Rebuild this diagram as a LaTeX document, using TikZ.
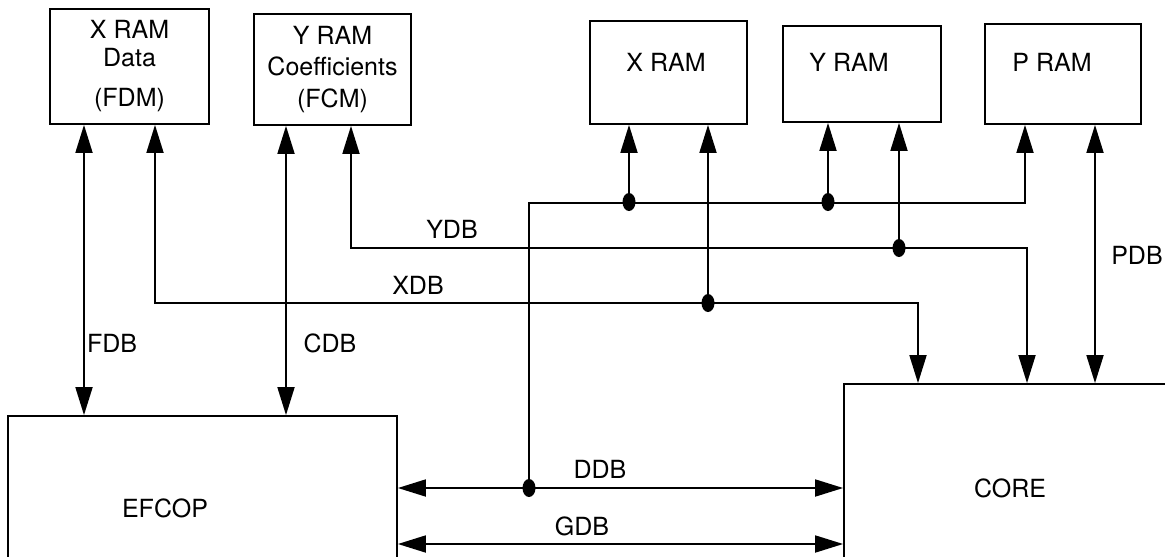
\documentclass[tikz,border=0pt]{standalone}
\usepackage{fontspec}
\setmainfont{TeX Gyre Heros}
\usetikzlibrary{arrows.meta,shapes.geometric,calc}
\begin{document}
\begin{tikzpicture}[x=1pt,y=-1pt,
  line width=1.8pt,
  >={Triangle[length=28pt,width=17pt]},
  box/.style={draw, rectangle, inner sep=0pt, line width=1.8pt, align=center,
              font=\fontsize{25}{30}\selectfont},
  lbl/.style={font=\fontsize{25}{30}\selectfont, inner sep=0pt},
  dot/.style={ellipse, fill, draw=none, inner sep=0pt, minimum width=13pt, minimum height=18pt}]
\useasboundingbox (0,0) rectangle (1165,557);
\clip (0,0) rectangle (1165,557);

% boxes
\node[box, minimum width=159pt, minimum height=115pt] (fdm) at (129.5,66.5)
  {X RAM\\[-2pt]Data\\[10pt](FDM)};
\node[box, minimum width=157pt, minimum height=111pt] (fcm) at (332.5,69.5)
  {Y RAM\\[1pt]Coefficients\\[2pt](FCM)};
\node[box, minimum width=157pt, minimum height=103pt] (xram) at (668.5,72.5) {};
\node[box, minimum width=158pt, minimum height=96pt] (yram) at (862,74) {};
\node[box, minimum width=156pt, minimum height=100pt] (pram) at (1063,74) {};
\node[box, minimum width=389pt, minimum height=204pt] (efcop) at (202.5,518) {};
\node[box, minimum width=376pt, minimum height=236pt] (core) at (1032,502) {};

\node[lbl] (xramt) at (666,62) {X RAM};
\node[lbl] (yramt) at (849,62) {Y RAM};
\node[lbl] (pramt) at (1052,62) {P RAM};
\node[lbl] (efcopt) at (165,508) {EFCOP};
\node[lbl] (coret) at (1010,488) {CORE};

% coordinates
\coordinate (f) at (84,300);
\coordinate (c) at (286,300);
\coordinate (p) at (1095,300);
\coordinate (xl) at (155,303);
\coordinate (xr) at (918,303);
\coordinate (yl) at (351,248);
\coordinate (yr) at (1027,248);
\coordinate (dtl) at (529,203);
\coordinate (dtr) at (1025,203);
\coordinate (g) at (600,544);

\node[dot] (xd) at (708,303) {};
\node[dot] (yd) at (899,248) {};
\node[dot] (dd) at (529,488) {};
\node[dot] (d1) at (629,202) {};
\node[dot] (d2) at (828,202) {};

% buses
\draw[<->] (fdm.south -| f) -- (efcop.north -| f);
\draw[<->] (fcm.south -| c) -- (efcop.north -| c);
\draw[<->] (pram.south -| p) -- (core.north -| p);
\draw[<->] (fdm.south -| xl) -- (xl) -- (xr) -- (core.north -| xr);
\draw[<->] (fcm.south -| yl) -- (yl) -- (yr) -- (core.north -| yr);
\draw[->] (xd.center) -- (xram.south -| xd);
\draw[->] (yd.center) -- (yram.south -| yd);
\draw[<->] (efcop.east |- dd) -- (core.west |- dd);
\draw[<->] (efcop.east |- g) -- (core.west |- g);
\draw[->] (dd.center) -- (dtl) -- (dtr) -- (pram.south -| dtr);
\draw[->] (d1.center) -- (xram.south -| d1);
\draw[->] (d2.center) -- (yram.south -| d2);

% labels
\node[lbl] (fdbt) at (112,343) {FDB};
\node[lbl] (cdbt) at (330,343) {CDB};
\node[lbl] (pdbt) at (1137,255) {PDB};
\node[lbl] (xdbt) at (418,285) {XDB};
\node[lbl] (ydbt) at (452,229) {YDB};
\node[lbl] (ddbt) at (600,469) {DDB};
\node[lbl] (gdbt) at (582,526) {GDB};
\end{tikzpicture}
\end{document}
